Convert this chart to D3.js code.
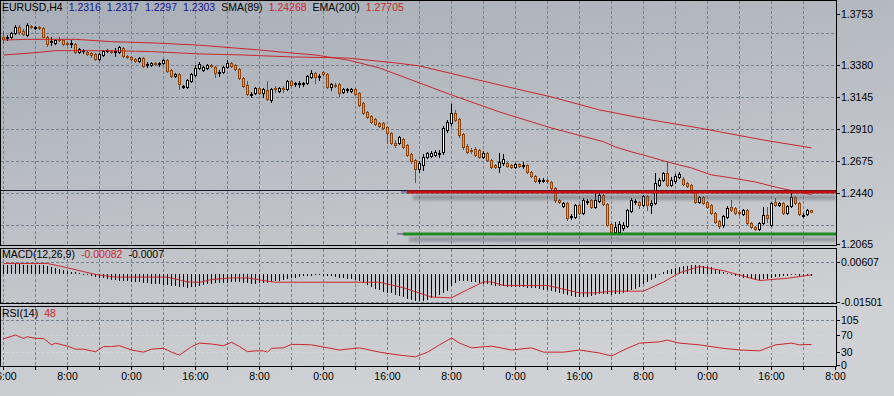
<!DOCTYPE html>
<html>
<head>
<meta charset="utf-8">
<script src="https://d3js.org/d3.v7.min.js"></script>
<style>
  body { margin: 0; background: #c6c9cd; }
  svg { display: block; font-family: "Liberation Sans", Arial, sans-serif; font-size: 10.5px; }
</style>
</head>
<body>
<div id="chart"></div>
<script>
// ---- data (EURUSD H4) ----
const openP = [1.3584,1.3577,1.3584,1.3614,1.3658,1.3628,1.3599,1.3665,1.3651,1.3658,
1.3651,1.3584,1.3548,1.3540,1.3570,1.3562,1.3540,1.3533,1.3533,1.3474,
1.3482,1.3474,1.3467,1.3460,1.3423,1.3452,1.3482,1.3482,1.3474,1.3474,
1.3504,1.3445,1.3438,1.3423,1.3408,1.3430,1.3379,1.3379,1.3394,1.3386,
1.3394,1.3416,1.3342,1.3298,1.3313,1.3217,1.3217,1.3261,1.3306,1.3357,
1.3342,1.3357,1.3379,1.3364,1.3320,1.3328,1.3364,1.3394,1.3379,1.3350,
1.3283,1.3232,1.3159,1.3173,1.3210,1.3173,1.3195,1.3122,1.3210,1.3188,
1.3210,1.3203,1.3261,1.3239,1.3239,1.3239,1.3247,1.3291,1.3320,1.3291,
1.3328,1.3313,1.3217,1.3232,1.3239,1.3181,1.3195,1.3188,1.3203,1.3173,
1.3100,1.3034,1.3005,1.2983,1.2953,1.2953,1.2924,1.2880,1.2806,1.2806,
1.2836,1.2792,1.2726,1.2682,1.2616,1.2645,1.2704,1.2711,1.2718,1.2726,
1.2741,1.2902,1.2953,1.3027,1.2983,1.2872,1.2784,1.2755,1.2762,1.2755,
1.2704,1.2733,1.2682,1.2645,1.2630,1.2660,1.2660,1.2645,1.2630,1.2652,
1.2638,1.2645,1.2594,1.2564,1.2528,1.2528,1.2535,1.2520,1.2476,1.2388,
1.2344,1.2366,1.2263,1.2263,1.2351,1.2293,1.2373,1.2388,1.2337,1.2381,
1.2425,1.2359,1.2212,1.2153,1.2153,1.2183,1.2197,1.2307,1.2373,1.2373,
1.2351,1.2417,1.2351,1.2366,1.2498,1.2535,1.2586,1.2498,1.2528,1.2557,
1.2542,1.2513,1.2498,1.2447,1.2373,1.2410,1.2373,1.2351,1.2293,1.2234,
1.2205,1.2263,1.2337,1.2329,1.2300,1.2285,1.2315,1.2219,1.2190,1.2175,
1.2219,1.2278,1.2205,1.2373,1.2351,1.2366,1.2293,1.2344,1.2410,1.2366,
1.2271,1.2285,1.2316];
const highP = [1.3628,1.3599,1.3621,1.3673,1.3673,1.3643,1.3687,1.3673,1.3665,1.3665,
1.3658,1.3592,1.3584,1.3570,1.3584,1.3570,1.3548,1.3562,1.3540,1.3504,
1.3496,1.3482,1.3474,1.3467,1.3467,1.3489,1.3496,1.3489,1.3504,1.3518,
1.3511,1.3452,1.3445,1.3430,1.3438,1.3438,1.3401,1.3401,1.3401,1.3401,
1.3423,1.3423,1.3350,1.3320,1.3320,1.3232,1.3276,1.3320,1.3379,1.3401,
1.3372,1.3386,1.3386,1.3372,1.3342,1.3372,1.3416,1.3401,1.3386,1.3357,
1.3291,1.3261,1.3181,1.3217,1.3217,1.3210,1.3261,1.3210,1.3225,1.3217,
1.3225,1.3269,1.3269,1.3254,1.3261,1.3254,1.3306,1.3342,1.3328,1.3313,
1.3335,1.3320,1.3247,1.3247,1.3247,1.3210,1.3210,1.3210,1.3210,1.3181,
1.3107,1.3041,1.3012,1.2990,1.2961,1.2961,1.2931,1.2887,1.2828,1.2858,
1.2843,1.2799,1.2733,1.2689,1.2674,1.2726,1.2741,1.2748,1.2755,1.2755,
1.2931,1.2975,1.3093,1.3049,1.2990,1.2880,1.2799,1.2770,1.2777,1.2762,
1.2748,1.2741,1.2689,1.2652,1.2733,1.2726,1.2667,1.2652,1.2660,1.2660,
1.2667,1.2652,1.2601,1.2572,1.2550,1.2550,1.2542,1.2528,1.2483,1.2395,
1.2373,1.2373,1.2285,1.2359,1.2359,1.2403,1.2395,1.2395,1.2439,1.2439,
1.2432,1.2366,1.2219,1.2227,1.2234,1.2227,1.2322,1.2403,1.2395,1.2381,
1.2425,1.2425,1.2388,1.2586,1.2550,1.2594,1.2667,1.2557,1.2579,1.2594,
1.2557,1.2520,1.2506,1.2461,1.2417,1.2417,1.2381,1.2359,1.2300,1.2241,
1.2278,1.2344,1.2388,1.2337,1.2315,1.2322,1.2322,1.2227,1.2197,1.2227,
1.2337,1.2337,1.2373,1.2403,1.2373,1.2373,1.2351,1.2439,1.2417,1.2373,
1.2293,1.2322,1.2317];
const lowP = [1.3540,1.3562,1.3577,1.3606,1.3606,1.3599,1.3592,1.3651,1.3643,1.3643,
1.3584,1.3518,1.3526,1.3533,1.3555,1.3526,1.3526,1.3511,1.3467,1.3467,
1.3467,1.3452,1.3438,1.3416,1.3416,1.3445,1.3474,1.3467,1.3445,1.3467,
1.3438,1.3430,1.3416,1.3401,1.3401,1.3364,1.3364,1.3372,1.3379,1.3372,
1.3386,1.3328,1.3291,1.3291,1.3203,1.3210,1.3210,1.3254,1.3298,1.3350,
1.3335,1.3350,1.3364,1.3291,1.3298,1.3320,1.3357,1.3364,1.3342,1.3276,
1.3217,1.3159,1.3144,1.3166,1.3166,1.3144,1.3122,1.3107,1.3181,1.3181,
1.3181,1.3195,1.3225,1.3225,1.3217,1.3225,1.3239,1.3283,1.3247,1.3269,
1.3306,1.3210,1.3195,1.3217,1.3151,1.3173,1.3181,1.3181,1.3159,1.3078,
1.3019,1.2990,1.2953,1.2939,1.2924,1.2909,1.2806,1.2799,1.2777,1.2799,
1.2770,1.2711,1.2660,1.2520,1.2594,1.2608,1.2696,1.2704,1.2711,1.2704,
1.2726,1.2887,1.2939,1.2968,1.2850,1.2762,1.2733,1.2733,1.2711,1.2696,
1.2696,1.2674,1.2623,1.2623,1.2594,1.2645,1.2630,1.2623,1.2623,1.2630,
1.2623,1.2586,1.2557,1.2520,1.2513,1.2520,1.2513,1.2469,1.2373,1.2366,
1.2337,1.2241,1.2249,1.2256,1.2285,1.2285,1.2359,1.2329,1.2329,1.2373,
1.2351,1.2197,1.2139,1.2146,1.2146,1.2168,1.2190,1.2300,1.2359,1.2329,
1.2344,1.2315,1.2293,1.2359,1.2491,1.2528,1.2491,1.2491,1.2513,1.2550,
1.2498,1.2483,1.2454,1.2366,1.2366,1.2359,1.2329,1.2285,1.2219,1.2183,
1.2190,1.2256,1.2307,1.2285,1.2278,1.2278,1.2212,1.2183,1.2168,1.2168,
1.2212,1.2227,1.2197,1.2344,1.2344,1.2285,1.2285,1.2337,1.2359,1.2278,
1.2263,1.2278,1.2297];
const closeP = [1.3570,1.3584,1.3614,1.3658,1.3621,1.3606,1.3673,1.3658,1.3658,1.3651,
1.3584,1.3533,1.3555,1.3562,1.3562,1.3533,1.3533,1.3540,1.3474,1.3496,
1.3489,1.3460,1.3452,1.3423,1.3460,1.3482,1.3489,1.3474,1.3482,1.3511,
1.3445,1.3438,1.3423,1.3408,1.3430,1.3372,1.3386,1.3394,1.3386,1.3394,
1.3416,1.3335,1.3298,1.3313,1.3239,1.3225,1.3269,1.3313,1.3357,1.3386,
1.3364,1.3379,1.3372,1.3320,1.3328,1.3364,1.3394,1.3372,1.3350,1.3283,
1.3225,1.3166,1.3166,1.3210,1.3173,1.3203,1.3129,1.3203,1.3203,1.3210,
1.3203,1.3261,1.3232,1.3247,1.3247,1.3247,1.3298,1.3320,1.3291,1.3298,
1.3313,1.3217,1.3239,1.3225,1.3173,1.3203,1.3203,1.3203,1.3166,1.3085,
1.3027,1.2997,1.2961,1.2946,1.2931,1.2916,1.2880,1.2806,1.2792,1.2850,
1.2777,1.2718,1.2674,1.2616,1.2660,1.2704,1.2733,1.2733,1.2741,1.2733,
1.2916,1.2961,1.3027,1.2975,1.2865,1.2777,1.2741,1.2748,1.2718,1.2704,
1.2733,1.2682,1.2630,1.2630,1.2667,1.2689,1.2638,1.2630,1.2652,1.2638,
1.2645,1.2594,1.2564,1.2528,1.2535,1.2535,1.2528,1.2476,1.2388,1.2373,
1.2366,1.2256,1.2271,1.2351,1.2293,1.2388,1.2381,1.2337,1.2388,1.2425,
1.2359,1.2205,1.2153,1.2190,1.2212,1.2205,1.2315,1.2388,1.2381,1.2351,
1.2417,1.2351,1.2366,1.2513,1.2535,1.2586,1.2498,1.2535,1.2564,1.2579,
1.2506,1.2491,1.2461,1.2373,1.2410,1.2366,1.2337,1.2293,1.2227,1.2197,
1.2271,1.2329,1.2315,1.2293,1.2293,1.2315,1.2219,1.2190,1.2175,1.2219,
1.2278,1.2256,1.2366,1.2351,1.2366,1.2293,1.2344,1.2410,1.2366,1.2285,
1.2278,1.2315,1.2303];

// moving averages, read at a few bars: [bar, price]
const smaPoints = [[0,1.3562],[6,1.3567],[18,1.3567],[27,1.3550],[38,1.3540],[49,1.3524],
  [64,1.3489],[72,1.3467],[78,1.3452],[86,1.3416],[94,1.3357],[102,1.3269],[112,1.3159],
  [124,1.3034],[137,1.2916],[150,1.2816],[153,1.2777],[157,1.2741],[160,1.2718],[166,1.2667],
  [172,1.2623],[177,1.2572],[182,1.2550],[188,1.2520],[194,1.2476],[202,1.24268]];
const emaPoints = [[0,1.3452],[8,1.3469],[13,1.3484],[27,1.3484],[37,1.3477],[49,1.3460],
  [60,1.3452],[72,1.3438],[86,1.3430],[98,1.3394],[104,1.3372],[124,1.3232],[137,1.3144],
  [149,1.3049],[162,1.2975],[174,1.2916],[190,1.2828],[202,1.27705]];

// MACD(12,26,9) histogram per bar and signal line
const macdHist = [0.0045,0.0046,0.0047,0.0048,0.0048,0.0047,0.0047,0.0046,0.0046,0.0045,0.0043,0.0040,
  0.0035,0.0030,0.0025,0.0020,0.0015,0.0010,0.0006,0.0002,-0.0002,-0.0005,-0.0008,-0.0012,-0.0016,
  -0.0020,-0.0024,-0.0027,-0.0030,-0.0032,-0.0034,-0.0036,-0.0038,-0.0040,-0.0042,-0.0044,-0.0046,-0.0048,-0.0050,-0.0052,-0.0054,-0.0056,-0.0058,-0.0060,-0.0064,-0.0068,-0.0070,-0.0068,-0.0064,-0.0060,
  -0.0056,-0.0052,-0.0049,-0.0046,-0.0045,-0.0044,-0.0043,-0.0042,-0.0041,-0.0042,-0.0044,-0.0046,-0.0048,-0.0048,-0.0047,-0.0045,-0.0043,-0.0040,-0.0036,-0.0032,-0.0028,-0.0024,-0.0020,-0.0016,-0.0013,
  -0.0010,-0.0008,-0.0006,-0.0005,-0.0005,-0.0006,-0.0008,-0.0010,-0.0013,-0.0016,-0.0020,-0.0023,-0.0026,-0.0030,-0.0036,-0.0044,-0.0054,-0.0064,-0.0074,
  -0.0084,-0.0090,-0.0096,-0.0100,-0.0108,-0.0115,-0.0121,-0.0128,-0.0135,-0.0139,-0.0142,-0.0138,-0.0132,-0.0126,-0.0120,-0.0110,-0.0100,-0.0085,
  -0.0060,-0.0045,-0.0035,-0.0032,-0.0034,-0.0038,-0.0042,-0.0045,
  -0.0048,-0.0052,-0.0055,-0.0058,-0.0060,-0.0062,-0.0064,-0.0065,-0.0066,-0.0067,-0.0068,-0.0069,-0.0070,-0.0072,-0.0075,-0.0079,-0.0083,
  -0.0088,-0.0093,-0.0098,-0.0104,-0.0110,-0.0115,-0.0119,-0.0121,-0.0120,
  -0.0116,-0.0112,-0.0108,-0.0104,-0.0102,-0.0104,-0.0106,-0.0105,-0.0102,-0.0098,-0.0092,-0.0084,
  -0.0074,-0.0064,-0.0052,-0.0040,-0.0028,-0.0016,
  -0.0004,0.0008,0.0018,0.0025,0.0030,0.0034,
  0.0038,0.0041,0.0043,0.0044,0.0043,0.0041,0.0037,0.0032,0.0025,0.0016,0.0008,0.0002,-0.0003,-0.0008,-0.0012,-0.0016,-0.0020,-0.0024,-0.0027,-0.0028,-0.0026,-0.0023,-0.0018,-0.0014,-0.0011,-0.0009,-0.0008,-0.0005,-0.0004,-0.0006,-0.0008,-0.0008,-0.00082];
const macdSignal = [[0,0.0053],[11,0.0053],[16,0.0030],[23,-0.0005],[28,-0.0019],[41,-0.0019],[46,-0.0044],
  [49,-0.0046],[52,-0.0032],[57,-0.0023],[61,-0.0023],[64,-0.0034],[68,-0.0046],[74,-0.0046],[94,-0.0046],
  [100,-0.0075],[107,-0.0124],[112,-0.0128],[116,-0.0085],[120,-0.0044],[122,-0.0044],[125,-0.0063],
  [136,-0.0063],[144,-0.0102],[148,-0.0102],[152,-0.0093],[160,-0.0093],[165,-0.0045],[169,0.0004],
  [174,0.0037],[180,0.0015],[189,-0.0037],[196,-0.0025],[202,-0.0007]];

// RSI(14): [bar, value]
const rsiPoints = [[0,61],[3,70],[5,62],[6,66],[8,62],[10,62],[12,47],[13,51],[16,44],[18,37],[20,37],
  [23,31],[25,43],[27,43],[29,45],[32,35],[35,30],[37,37],[40,39],[42,30],[44,23],[47,43],[49,51],
  [52,49],[55,45],[57,53],[59,43],[61,31],[63,33],[65,33],[66,30],[67,39],[70,40],[72,48],[74,48],
  [77,47],[84,35],[89,40],[94,30],[99,23],[103,19],[106,30],[109,47],[112,63],[114,51],[117,40],
  [122,44],[127,35],[132,40],[135,30],[140,30],[144,35],[149,28],[152,21],[155,35],[159,51],
  [164,54],[166,58],[169,51],[174,47],[179,40],[184,35],[189,33],[193,47],[197,51],[199,47],[202,48]];

const timeLabels = ["16:00","8:00","0:00","16:00","8:00","0:00","16:00","8:00","0:00","16:00","8:00","0:00","16:00","8:00"];
const priceLabels = [1.3753, 1.3380, 1.3145, 1.2910, 1.2675, 1.2440, 1.2065];
const priceGrid = [1.3615, 1.3380, 1.3145, 1.2910, 1.2675, 1.2440, 1.2205];
const macdLabels = [0.00607, -0.01501];
const rsiLabels = [105, 70, 30, 0];
const hLinePrice = 1.2459;
const resistance = { from: 101, price: 1.2447 };
const support = { from: 100, price: 1.2139 };

const width = 894, height = 396;
const axisX = 836;
const mainP = { top: 0, bottom: 245 };
const macdP = { top: 248, bottom: 303 };
const rsiP = { top: 306, bottom: 366 };

const bull = { fill: "#ffffff", stroke: "#000000" };
const bear = { fill: "#f2a31b", stroke: "#8a4510" };
const red = "#c8282c";
const blue = "#14148c";
const gridColor = "#76828f";

const svg = d3.select("#chart").append("svg")
  .attr("width", width).attr("height", height);

const defs = svg.append("defs");
const bg = defs.append("linearGradient").attr("id", "bg")
  .attr("x1", 0).attr("y1", 0).attr("x2", 0.35).attr("y2", 1);
bg.append("stop").attr("offset", "0%").attr("stop-color", "#a8aeb7");
bg.append("stop").attr("offset", "100%").attr("stop-color", "#cfd1d4");
defs.append("filter").attr("id", "blur").attr("x", "-5%").attr("y", "-200%").attr("width", "110%").attr("height", "500%")
  .append("feGaussianBlur").attr("stdDeviation", 1.8);
[["clipMain", mainP], ["clipMacd", macdP], ["clipRsi", rsiP]].forEach(([id, p]) => {
  defs.append("clipPath").attr("id", id).append("rect")
    .attr("x", 1).attr("y", p.top + 1).attr("width", axisX - 1).attr("height", p.bottom - p.top - 1);
});

svg.append("rect").attr("width", width).attr("height", height).attr("fill", "url(#bg)");

// scales
const x = d3.scaleLinear().domain([0, 208]).range([3, 835]);
const y = d3.scaleLinear().domain([1.2065, 1.3753]).range([244, 14]);
const yMacd = d3.scaleLinear().domain([-0.01501, 0.00607]).range([302, 262]);
const yRsi = d3.scaleLinear().domain([0, 105]).range([365, 320]);

const bars = d3.range(closeP.length);

// vertical grid, all panels
const vTicks = d3.range(0, 208, 8);
[mainP, macdP, rsiP].forEach(p => {
  svg.append("g").selectAll("line").data(vTicks).join("line")
    .attr("x1", d => x(d) + 0.5).attr("x2", d => x(d) + 0.5)
    .attr("y1", p.top + 1).attr("y2", p.bottom)
    .attr("stroke", gridColor).attr("stroke-dasharray", "3,2");
});

// horizontal grid
function hGrid(vals, scale, color, dash) {
  svg.append("g").selectAll("line").data(vals).join("line")
    .attr("x1", 1).attr("x2", axisX)
    .attr("y1", d => Math.round(scale(d)) + 0.5).attr("y2", d => Math.round(scale(d)) + 0.5)
    .attr("stroke", color).attr("stroke-dasharray", dash);
}
hGrid(priceGrid, y, gridColor, "3,2");
hGrid(macdLabels, yMacd, gridColor, "3,2");
hGrid([105], yRsi, gridColor, "3,2");
hGrid([70, 30], yRsi, "#d2d5d9", "3,2");

// candles
const gMain = svg.append("g").attr("clip-path", "url(#clipMain)");
const candles = gMain.append("g").attr("shape-rendering", "crispEdges")
  .selectAll("g").data(bars).join("g");
candles.append("line")
  .attr("x1", i => x(i) + 0.5).attr("x2", i => x(i) + 0.5)
  .attr("y1", i => Math.round(y(highP[i]))).attr("y2", i => Math.round(y(lowP[i])) + 1)
  .attr("stroke", i => closeP[i] >= openP[i] ? bull.stroke : bear.stroke);
candles.append("rect")
  .attr("x", i => x(i) - 0.5).attr("width", 2)
  .attr("y", i => Math.round(y(Math.max(openP[i], closeP[i]))) + 0.5)
  .attr("height", i => Math.round(y(Math.min(openP[i], closeP[i]))) - Math.round(y(Math.max(openP[i], closeP[i]))))
  .attr("fill", i => closeP[i] >= openP[i] ? bull.fill : bear.fill)
  .attr("stroke", i => closeP[i] >= openP[i] ? bull.stroke : bear.stroke);

// moving averages
const maLine = d3.line().x(d => x(d[0]) + 0.5).y(d => y(d[1]));
gMain.append("path").datum(smaPoints).attr("d", maLine).attr("fill", "none").attr("stroke", red);
gMain.append("path").datum(emaPoints).attr("d", maLine).attr("fill", "none").attr("stroke", red);

// horizontal line and the two thick levels with their shadow
gMain.append("line").attr("x1", 1).attr("x2", axisX)
  .attr("y1", Math.round(y(hLinePrice)) + 0.5).attr("y2", Math.round(y(hLinePrice)) + 0.5)
  .attr("stroke", "#1a1a2a");
[[resistance, "#c41010"], [support, "#1f8a1f"]].forEach(([lv, col]) => {
  const yy = y(lv.price);
  gMain.append("rect").attr("x", x(lv.from) + 6).attr("width", axisX - x(lv.from) - 6)
    .attr("y", yy + 3).attr("height", 5).attr("fill", "#5a5e66").attr("opacity", 0.45)
    .attr("filter", "url(#blur)");
  gMain.append("line").attr("x1", x(lv.from) - 6).attr("x2", x(lv.from))
    .attr("y1", yy).attr("y2", yy).attr("stroke", "#4a3a8a");
  gMain.append("line").attr("x1", x(lv.from)).attr("x2", axisX)
    .attr("y1", yy).attr("y2", yy).attr("stroke", col).attr("stroke-width", 3);
});

// MACD panel
const gMacd = svg.append("g").attr("clip-path", "url(#clipMacd)");
gMacd.append("g").attr("shape-rendering", "crispEdges").selectAll("line").data(bars).join("line")
  .attr("x1", i => x(i) + 0.5).attr("x2", i => x(i) + 0.5)
  .attr("y1", Math.round(yMacd(0)))
  .attr("y2", i => Math.round(yMacd(macdHist[i])) + (macdHist[i] < 0 ? 1 : 0))
  .attr("stroke", "#000");
gMacd.append("path").datum(macdSignal)
  .attr("d", d3.line().x(d => x(d[0]) + 0.5).y(d => yMacd(d[1])))
  .attr("fill", "none").attr("stroke", red);

// RSI panel
const gRsi = svg.append("g").attr("clip-path", "url(#clipRsi)");
gRsi.append("path").datum(rsiPoints)
  .attr("d", d3.line().x(d => x(d[0]) + 0.5).y(d => yRsi(d[1])))
  .attr("fill", "none").attr("stroke", red);

// panel frames
[mainP, macdP, rsiP].forEach(p => {
  svg.append("rect").attr("x", 0.5).attr("y", p.top + 0.5)
    .attr("width", axisX).attr("height", p.bottom - p.top)
    .attr("fill", "none").attr("stroke", "#000");
});

// right axes
function rightAxis(vals, scale, fmt) {
  const g = svg.append("g");
  g.selectAll("line").data(vals).join("line")
    .attr("x1", axisX).attr("x2", axisX + 4)
    .attr("y1", d => Math.round(scale(d)) + 0.5).attr("y2", d => Math.round(scale(d)) + 0.5)
    .attr("stroke", "#000");
  g.selectAll("text").data(vals).join("text")
    .attr("x", axisX + 5).attr("y", d => scale(d)).attr("dy", "0.36em")
    .attr("fill", "#000").text(fmt);
}
rightAxis(priceLabels, y, d => d.toFixed(4));
rightAxis(macdLabels, yMacd, d => d.toFixed(5));
rightAxis(rsiLabels, yRsi, d => d);

// time axis
const tAxis = svg.append("g");
tAxis.selectAll("line").data(vTicks.concat([208])).join("line")
  .attr("x1", d => x(d) + 0.5).attr("x2", d => x(d) + 0.5)
  .attr("y1", rsiP.bottom).attr("y2", rsiP.bottom + 4).attr("stroke", "#000");
tAxis.selectAll("text").data(timeLabels).join("text")
  .attr("x", (d, k) => x(k * 16) + 0.5).attr("y", 380)
  .attr("text-anchor", "middle").attr("fill", "#000").text(d => d);

// panel headers
function header(parts, yPos) {
  let cx = 2;
  parts.forEach(([t, c]) => {
    const node = svg.append("text").attr("x", cx).attr("y", yPos).attr("fill", c).text(t);
    cx += node.node().getComputedTextLength() + 6;
  });
}
header([["EURUSD,H4", "#000"], [openP[202].toFixed(4), blue], [highP[202].toFixed(4), blue],
  [lowP[202].toFixed(4), blue], [closeP[202].toFixed(4), blue], ["SMA(89)", "#000"],
  [smaPoints[smaPoints.length - 1][1].toFixed(5), red], ["EMA(200)", "#000"],
  [emaPoints[emaPoints.length - 1][1].toFixed(5), red]], 11);
header([["MACD(12,26,9)", "#000"], [macdHist[macdHist.length - 1].toFixed(5), red],
  [macdSignal[macdSignal.length - 1][1].toFixed(4), "#000"]], 258);
header([["RSI(14)", "#000"], [String(rsiPoints[rsiPoints.length - 1][1]), red]], 317);
</script>
</body>
</html>
